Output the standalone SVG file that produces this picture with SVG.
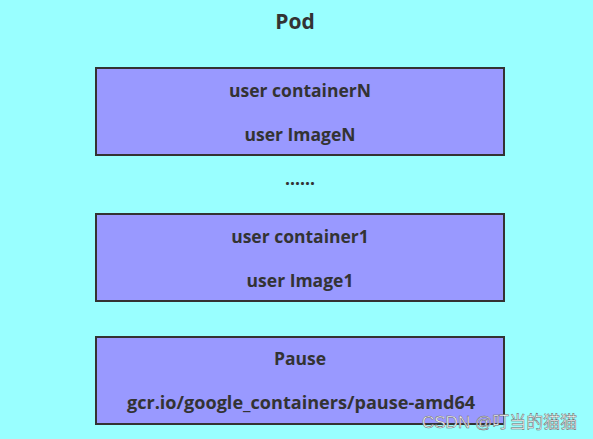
<svg xmlns="http://www.w3.org/2000/svg" width="593" height="439" viewBox="0 0 593 439">
<style>
.box{fill:#9999FF;stroke:#333;stroke-width:2}
.t{font-family:"Open Sans","Liberation Sans",sans-serif;font-weight:bold;font-size:17.5px;fill:#333;text-anchor:middle}
.wm{font-family:"Liberation Sans","Noto Sans CJK SC",sans-serif;font-size:17px;fill:#fff;stroke:#666;stroke-width:0.5}
</style>
<rect width="593" height="439" fill="#99FFFF"/>
<text class="t" x="295" y="29" style="font-size:21px">Pod</text>
<g id="containerN">
<rect class="box" x="96" y="68" width="408" height="87"/>
<text class="t" x="300" y="97">user containerN</text>
<text class="t" x="300" y="141">user ImageN</text>
</g>
<text class="t" x="300" y="185">......</text>
<g id="container1">
<rect class="box" x="96" y="214" width="408" height="87"/>
<text class="t" x="300" y="243">user container1</text>
<text class="t" x="300" y="287">user Image1</text>
</g>
<g id="pause">
<rect class="box" x="96" y="337" width="408" height="87"/>
<text class="t" x="300" y="365">Pause</text>
<text class="t" x="301" y="409" style="font-size:18.1px">gcr.io/google_containers/pause-amd64</text>
</g>
<g id="connectors"/>
<text class="wm" x="422" y="428">CSDN @叮当的猫猫</text>
</svg>
